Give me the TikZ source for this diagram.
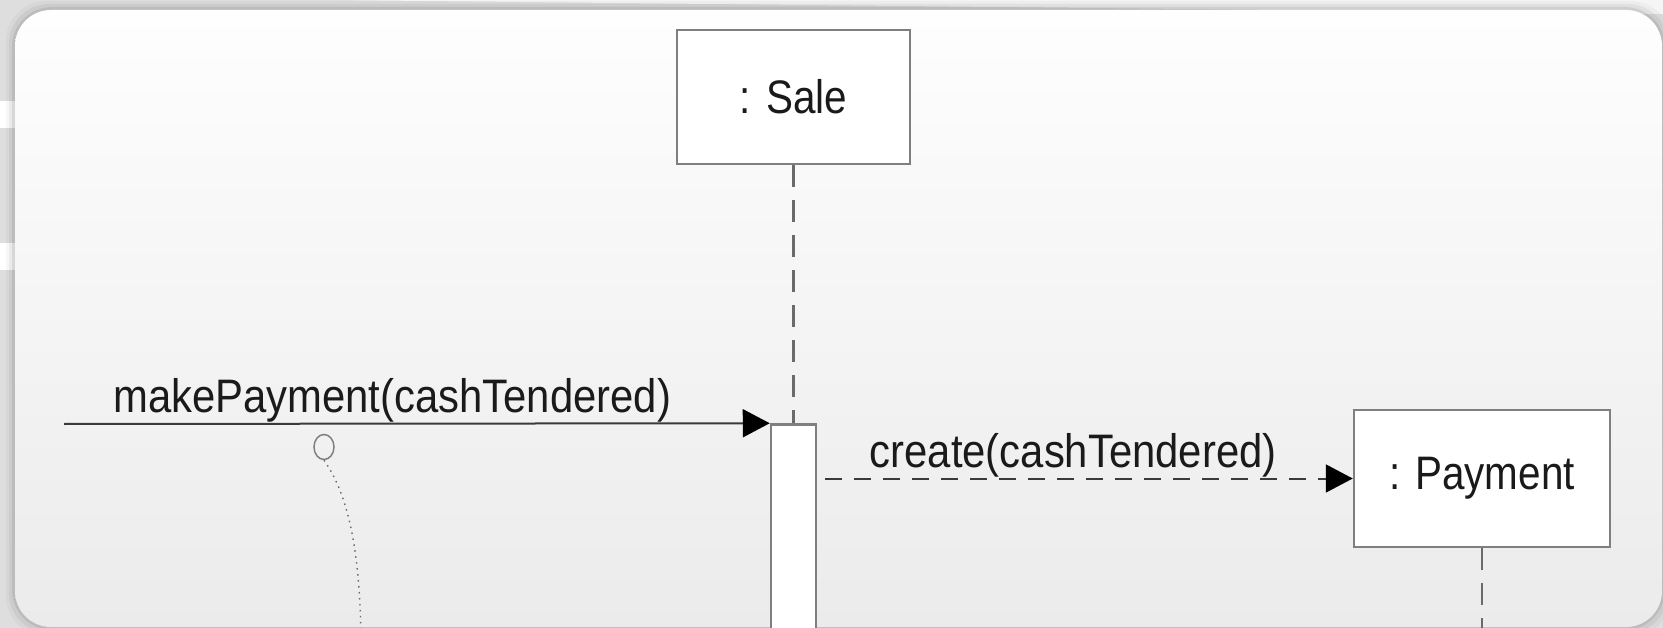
\documentclass[tikz,border=0pt]{standalone}
\usepackage{fontspec}
\newfontfamily\umlfont[FakeStretch=0.86]{Liberation Sans}
\newfontfamily\msgfont[FakeStretch=0.89]{Liberation Sans}
\usepackage{xcolor}
\usetikzlibrary{shapes.geometric, arrows.meta, positioning}

\definecolor{outergray}{HTML}{DEDEDE}
\definecolor{panetop}{HTML}{FEFEFE}
\definecolor{panebottom}{HTML}{EBEBEB}
\definecolor{boxline}{HTML}{7F7F7F}
\definecolor{lifegray}{HTML}{6A6A6A}
\definecolor{msggray}{HTML}{3A3A3A}
\definecolor{textgray}{HTML}{1A1A1A}

\tikzstyle{objbox} = [
    rectangle,
    minimum width=233pt,
    minimum height=134pt,
    inner sep=0pt,
    text centered,
    draw=boxline,
    line width=2.5pt,
    fill=white,
    text=textgray,
    font=\umlfont\fontsize{47}{56}\selectfont
]
\tikzstyle{actbar} = [
    rectangle,
    minimum width=45pt,
    minimum height=260pt,
    anchor=north,
    draw=boxline,
    line width=2.5pt,
    fill=white
]
\tikzstyle{notedot} = [
    ellipse,
    minimum width=20pt,
    minimum height=25pt,
    inner sep=0pt,
    draw=boxline,
    line width=1.5pt
]
\tikzstyle{msglabel} = [
    above,
    inner sep=0pt,
    text=textgray,
    font=\msgfont\fontsize{47}{56}\selectfont
]
\tikzset{
    >={Triangle[length=27pt, width=28pt, color=black]}
}
\tikzstyle{msg} = [
    line width=2pt,
    ->,
    draw=msggray
]
\tikzstyle{msgdash} = [
    line width=2pt,
    ->,
    draw=msggray,
    dash pattern=on 17pt off 12pt
]
\tikzstyle{lifeline} = [
    line width=2.5pt,
    draw=lifegray,
    dash pattern=on 22pt off 13pt
]
\tikzstyle{notelink} = [
    line width=1.4pt,
    draw=lifegray,
    dash pattern=on 1.5pt off 4.5pt
]

\begin{document}
\begin{tikzpicture}[x=1pt, y=-1pt]

% Background
\clip (0,0) rectangle (1663,628);
\fill [outergray] (0,0) rectangle (1663,628);
\fill [white] (0,101) rectangle (15,128);
\fill [white] (0,243) rectangle (15,270);
\fill [white!70!outergray] (330,0) -- (1663,0) -- (1663,14) -- (900,6) -- cycle;
\foreach \s/\o in {9/0.03, 6/0.05, 3/0.08} {
    \fill [black, opacity=\o, rounded corners=40pt]
        (15-\s,10-\s) rectangle (1662+\s,627+\s);
}
\shade [top color=panetop, bottom color=panebottom, rounded corners=36pt]
    (15,10) rectangle (1662,627);

% Nodes
\node (sale) [objbox] at (793.5,97) {: Sale};

\node (saleact) [actbar, below=258pt of sale] {};

\node (payment) [objbox, minimum width=256pt, minimum height=137pt] at (1482,478.5) {: Payment};

\node (hook) [notedot] at (324,447) {};

\coordinate (caller) at (64,424);
\coordinate (noteend) at (361,640);
\coordinate (payend) at (1482,640);

% Arrows
\draw [lifeline] (sale) -- (saleact);

\draw [lifeline] (payment) -- (payend);

\draw [msg] (caller) -- (saleact.north west)
    node [msglabel, pos=0.465] {makePayment(cashTendered)};

\draw [msgdash] ([xshift=8pt]saleact.east |- payment.west) -- (payment.west)
    node [msglabel, pos=0.47] {create(cashTendered)};

\draw [notelink] (hook.south) .. controls (345,490) and (360,540) .. (noteend);

\end{tikzpicture}
\end{document}
